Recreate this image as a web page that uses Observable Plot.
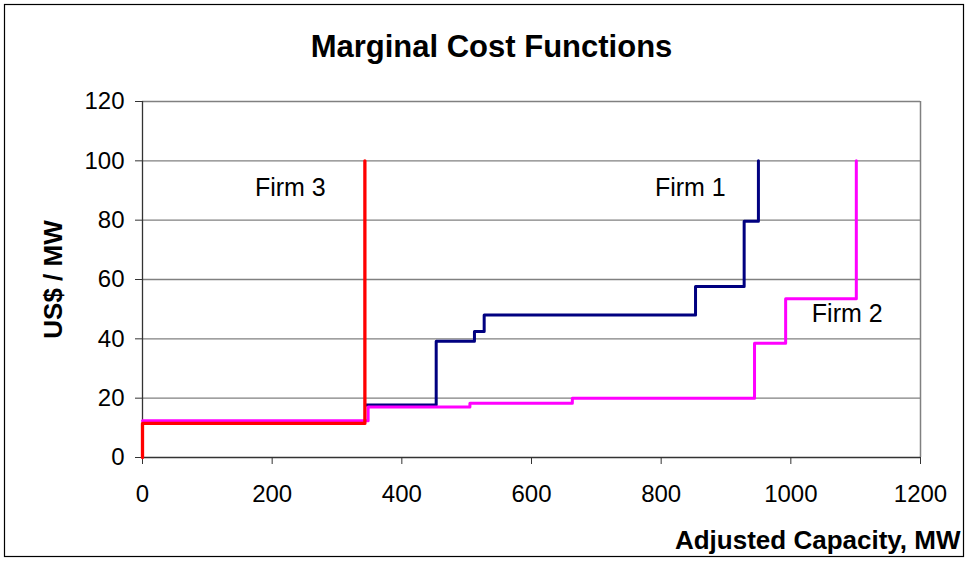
<!DOCTYPE html>
<html>
<head>
<meta charset="utf-8">
<script src="https://cdn.jsdelivr.net/npm/d3@7"></script>
<script src="https://cdn.jsdelivr.net/npm/@observablehq/plot@0.6"></script>
<style>
  html, body { margin: 0; padding: 0; background: #fff; }
  #chart { width: 968px; height: 563px; }
  svg { font-family: "Liberation Sans", Arial, sans-serif; }
</style>
</head>
<body>
<div id="chart"></div>
<script>
// ---- data ----
const firm1X = [345, 453, 512, 527, 853, 928, 950];
const firm1Y = [17.7, 39.2, 42.5, 48, 57.6, 79.6, 100];

const firm2X = [0, 348, 505, 663, 944, 992, 1101];
const firm2Y = [12.4, 17, 18.3, 20, 38.5, 53.5, 100];

const firm3X = [0, 0, 343];
const firm3Y = [0, 11.5, 100];

const labelNames = ["Firm 3", "Firm 1", "Firm 2"];
const labelX = [228, 845, 1087];
const labelY = [91, 91, 48.5];

const xTicks = [0, 200, 400, 600, 800, 1000, 1200];
const yTicks = [0, 20, 40, 60, 80, 100, 120];

const titleText = "Marginal Cost Functions";
const xLabel = "Adjusted Capacity, MW";
const yLabel = "US$ / MW";

// ---- build tables ----
const toRows = (xs, ys) => xs.map((x, i) => ({x, y: ys[i]}));
const f1 = toRows(firm1X, firm1Y);
const f2 = toRows(firm2X, firm2Y);
const f3 = toRows(firm3X, firm3Y);
const labels = labelNames.map((n, i) => ({name: n, x: labelX[i], y: labelY[i]}));

const plot = Plot.plot({
  width: 968,
  height: 563,
  marginLeft: 142,
  marginRight: 48,
  marginTop: 101,
  marginBottom: 106,
  style: {fontFamily: "'Liberation Sans', Arial, sans-serif", fontSize: "24px", color: "#000", background: "#fff"},
  x: {domain: [0, 1200], label: null},
  y: {domain: [0, 120], label: null},
  marks: [
    Plot.ruleY(yTicks.filter(d => d > 0), {stroke: "#808080", strokeWidth: 1.3, strokeOpacity: 1}),
    Plot.ruleX([1200], {stroke: "#808080", strokeWidth: 1.5}),
    Plot.ruleX([0], {stroke: "#333", strokeWidth: 1.3}),
    Plot.ruleY([0], {stroke: "#333", strokeWidth: 1.3}),
    Plot.axisX({ticks: xTicks, tickSize: 7, tickPadding: 20, stroke: "#333", fontSize: 24, fill: "#000", tickFormat: d => String(d), label: null}),
    Plot.axisY({ticks: yTicks, tickSize: 7, tickPadding: 11, stroke: "#333", fontSize: 24, fill: "#000", tickFormat: d => String(d), label: null}),
    Plot.line(f1, {x: "x", y: "y", curve: "step-after", stroke: "#000080", strokeWidth: 3}),
    Plot.line(f2, {x: "x", y: "y", curve: "step-after", stroke: "#FF00FF", strokeWidth: 3}),
    Plot.line(f3, {x: "x", y: "y", curve: "step-after", stroke: "#FF0000", strokeWidth: 3.3}),
    Plot.text(labels, {x: "x", y: "y", text: "name", fontSize: 25, fill: "#000", lineAnchor: "middle"}),
    Plot.text([titleText], {frameAnchor: "top", lineAnchor: "middle", dx: -40, dy: -54, fontSize: 31, fontWeight: "bold", fill: "#000"}),
    Plot.text([yLabel], {frameAnchor: "left", textAnchor: "middle", lineAnchor: "middle", dx: -89, rotate: -90, fontSize: 26, fontWeight: "bold", fill: "#000"}),
    Plot.text([xLabel], {frameAnchor: "bottom-right", textAnchor: "end", lineAnchor: "middle", dx: 40, dy: 83, fontSize: 26, fontWeight: "bold", fill: "#000"})
  ]
});

document.getElementById("chart").appendChild(plot);

// outer chart border
d3.select(plot).append("rect")
  .attr("x", 4.5).attr("y", 4.5)
  .attr("width", 959).attr("height", 552)
  .attr("fill", "none").attr("stroke", "#000").attr("stroke-width", 1.2);
</script>
</body>
</html>
